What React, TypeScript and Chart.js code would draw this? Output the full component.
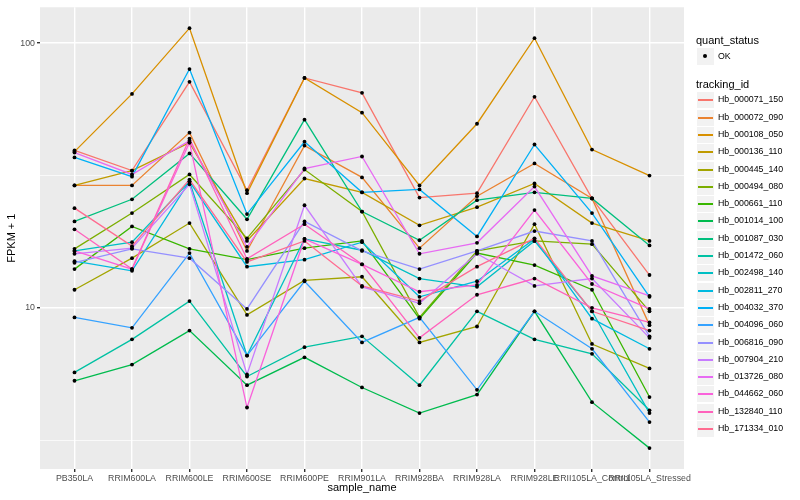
import React, { useEffect, useRef } from 'react';
import { Chart, registerables } from 'chart.js';

Chart.register(...registerables);

const categories = [
  'PB350LA', 'RRIM600LA', 'RRIM600LE', 'RRIM600SE', 'RRIM600PE', 'RRIM901LA',
  'RRIM928BA', 'RRIM928LA', 'RRIM928LE', 'RRII105LA_Control', 'RRII105LA_Stressed',
];

const trackingIds = [
  'Hb_000071_150', 'Hb_000072_090', 'Hb_000108_050', 'Hb_000136_110', 'Hb_000445_140',
  'Hb_000494_080', 'Hb_000661_110', 'Hb_001014_100', 'Hb_001087_030', 'Hb_001472_060',
  'Hb_002498_140', 'Hb_002811_270', 'Hb_004032_370', 'Hb_004096_060', 'Hb_006816_090',
  'Hb_007904_210', 'Hb_013726_080', 'Hb_044662_060', 'Hb_132840_110', 'Hb_171334_010',
];

const seriesColors = [
  '#F8766D', '#EA8331', '#D89000', '#C09B00', '#A3A500',
  '#7CAE00', '#39B600', '#00BB4E', '#00BF7D', '#00C1A3',
  '#00BFC4', '#00BAE0', '#00B0F6', '#35A2FF', '#9590FF',
  '#C77CFF', '#E76BF3', '#FA62DB', '#FF62BC', '#FF6C91',
];

// FPKM + 1 per sample (order of categories)
const hb_000071_150 = [39.3, 33.0, 71.4, 27.8, 73.9, 64.9, 26.1, 27.1, 62.7, 25.9, 13.3];
const hb_000072_090 = [29.0, 29.0, 45.9, 16.4, 41.0, 31.1, 16.8, 26.4, 35.1, 25.9, 8.6];
const hb_000108_050 = [38.9, 64.3, 113.9, 27.1, 73.9, 54.6, 29.0, 49.6, 104.4, 39.6, 31.6];
const hb_000136_110 = [29.0, 33.0, 42.1, 17.9, 30.8, 27.3, 20.5, 24.0, 29.5, 20.9, 17.9];
const hb_000445_140 = [11.7, 15.4, 20.9, 9.4, 12.7, 13.1, 7.4, 8.5, 20.7, 7.3, 5.9];
const hb_000494_080 = [16.7, 22.8, 31.9, 18.3, 33.3, 23.1, 9.2, 16.4, 17.9, 17.4, 9.7];
const hb_000661_110 = [14.0, 20.3, 16.7, 15.2, 16.8, 17.9, 9.1, 16.1, 14.5, 11.7, 4.6];
const hb_001014_100 = [5.3, 6.1, 8.2, 5.1, 6.5, 5.0, 4.0, 4.7, 9.7, 4.4, 2.95];
const hb_001087_030 = [21.2, 25.7, 38.3, 21.6, 51.4, 23.1, 18.0, 25.5, 27.3, 25.9, 17.2];
const hb_001472_060 = [5.7, 7.6, 10.6, 5.5, 7.1, 7.8, 5.1, 9.7, 7.6, 6.7, 4.1];
const hb_002498_140 = [16.4, 17.7, 30.0, 6.6, 18.2, 16.5, 12.9, 12.0, 17.9, 9.7, 4.0];
const hb_002811_270 = [15.0, 13.8, 30.0, 14.3, 15.2, 17.7, 11.0, 12.6, 18.2, 9.1, 7.0];
const hb_004032_370 = [37.0, 31.3, 79.8, 22.6, 42.4, 27.3, 28.0, 18.6, 41.4, 22.8, 11.0];
const hb_004096_060 = [9.2, 8.4, 16.1, 6.6, 12.6, 7.4, 9.2, 4.9, 9.7, 7.0, 3.7];
const hb_006816_090 = [14.8, 16.7, 15.4, 9.9, 21.2, 16.4, 14.0, 16.4, 19.5, 17.9, 7.8];
const hb_007904_210 = [16.0, 16.8, 29.3, 5.6, 24.4, 12.0, 10.4, 16.0, 12.1, 12.9, 7.7];
const hb_013726_080 = [38.6, 31.9, 42.8, 17.0, 33.6, 37.3, 16.0, 17.6, 28.7, 13.2, 11.1];
const hb_044662_060 = [16.4, 14.0, 42.1, 4.2, 18.2, 14.6, 11.5, 12.2, 23.4, 12.3, 9.9];
const hb_132840_110 = [19.8, 14.0, 43.6, 15.3, 20.7, 14.6, 7.7, 11.2, 12.9, 10.0, 8.8];
const hb_171334_010 = [23.8, 17.1, 30.5, 14.9, 17.9, 12.1, 10.6, 14.3, 18.3, 9.7, 8.2];

const seriesValues = [
  hb_000071_150, hb_000072_090, hb_000108_050, hb_000136_110, hb_000445_140,
  hb_000494_080, hb_000661_110, hb_001014_100, hb_001087_030, hb_001472_060,
  hb_002498_140, hb_002811_270, hb_004032_370, hb_004096_060, hb_006816_090,
  hb_007904_210, hb_013726_080, hb_044662_060, hb_132840_110, hb_171334_010,
];

const yTickValues = [3.1623, 10, 31.623, 100];
const yTickLabels = ['', '10', '', '100'];
const yMin = 2.46;
const yMax = 136.6;

const FONT = '"Liberation Sans", Arial, Helvetica, sans-serif';

const panelBg = {
  id: 'panelBg',
  beforeDraw(chart: any) {
    const { ctx, chartArea } = chart;
    if (!chartArea) return;
    ctx.save();
    ctx.fillStyle = '#EBEBEB';
    ctx.fillRect(chartArea.left, chartArea.top, chartArea.right - chartArea.left, chartArea.bottom - chartArea.top);
    ctx.restore();
  },
};

export default function App() {
  const canvasRef = useRef<HTMLCanvasElement | null>(null);

  useEffect(() => {
    if (!canvasRef.current) return;
    Chart.defaults.font.family = FONT;

    const lineSets = seriesValues.map((vals, i) => ({
      type: 'line' as const,
      label: trackingIds[i],
      data: vals.map((y, j) => ({ x: j, y })),
      borderColor: seriesColors[i],
      backgroundColor: seriesColors[i],
      borderWidth: 1.3,
      pointRadius: 0,
      fill: false,
      tension: 0,
      order: 100 - i,
    }));
    const pointSets = seriesValues.map((vals, i) => ({
      type: 'line' as const,
      label: trackingIds[i] + ' OK',
      data: vals.map((y, j) => ({ x: j, y })),
      showLine: false,
      pointRadius: 1.9,
      pointBackgroundColor: '#000000',
      pointBorderWidth: 0,
      borderColor: '#000000',
      order: 0,
    }));

    const chart = new Chart(canvasRef.current, {
      type: 'line',
      data: { datasets: [...lineSets, ...pointSets] as any },
      plugins: [panelBg],
      options: {
        animation: false,
        responsive: false,
        maintainAspectRatio: false,
        layout: { padding: { left: 0, right: 116, top: 5, bottom: 0 } },
        plugins: { legend: { display: false }, tooltip: { enabled: false } },
        scales: {
          x: {
            type: 'linear',
            min: -0.6,
            max: 10.6,
            afterBuildTicks: (s: any) => {
              s.ticks = categories.map((_, i) => ({ value: i }));
            },
            afterFit: (s: any) => {
              s.height = 31;
            },
            ticks: {
              callback: (v: any) => categories[Math.round(Number(v))] ?? '',
              autoSkip: false,
              maxRotation: 0,
              minRotation: 0,
              color: '#4D4D4D',
              font: { size: 8.8, family: FONT },
              padding: 1,
            },
            grid: {
              color: '#FFFFFF',
              lineWidth: 1.4,
              drawTicks: true,
              tickLength: 3,
              tickColor: '#333333',
            },
            border: { display: false },
            title: {
              display: true,
              text: 'sample_name',
              color: '#000000',
              font: { size: 11, family: FONT },
              padding: { top: 0, bottom: 5 },
            },
          },
          y: {
            type: 'logarithmic',
            min: yMin,
            max: yMax,
            afterBuildTicks: (s: any) => {
              s.ticks = yTickValues.map((v) => ({ value: v }));
            },
            afterFit: (s: any) => {
              s.width = 40;
            },
            ticks: {
              callback: (_v: any, i: number) => yTickLabels[i],
              autoSkip: false,
              color: '#4D4D4D',
              font: { size: 8.8, family: FONT },
              padding: 2,
            },
            grid: {
              color: '#FFFFFF',
              lineWidth: (ctx: any) => (yTickLabels[ctx.index] ? 1.4 : 0.7),
              drawTicks: true,
              tickLength: 3,
              tickColor: (ctx: any) => (yTickLabels[ctx.index] ? '#333333' : 'rgba(0,0,0,0)'),
            },
            border: { display: false },
            title: {
              display: true,
              text: 'FPKM + 1',
              color: '#000000',
              font: { size: 11, family: FONT },
              padding: { top: 5.5, bottom: 0 },
            },
          },
        },
      } as any,
    });
    return () => chart.destroy();
  }, []);

  const entryCenter = (i: number) => Math.round(100.3 + i * 17.3);

  return (
    <div style={{ position: 'absolute', left: 0, top: 0, width: 800, height: 500, background: '#FFFFFF', fontFamily: FONT, color: '#000' }}>
      <canvas ref={canvasRef} width={800} height={500} style={{ position: 'absolute', left: 0, top: 0, width: 800, height: 500 }} />
      <div style={{ position: 'absolute', left: 696, top: 34, fontSize: 11, lineHeight: '13px', whiteSpace: 'nowrap' }}>quant_status</div>
      <div style={{ position: 'absolute', left: 697, top: 48, width: 17, height: 17, background: '#F2F2F2' }}>
        <div style={{ position: 'absolute', left: 6, top: 6, width: 4, height: 4, borderRadius: 2, background: '#000' }} />
      </div>
      <div style={{ position: 'absolute', left: 718, top: 51, fontSize: 8.8, lineHeight: '11px', whiteSpace: 'nowrap' }}>OK</div>
      <div style={{ position: 'absolute', left: 696, top: 78, fontSize: 11, lineHeight: '13px', whiteSpace: 'nowrap' }}>tracking_id</div>
      {trackingIds.map((id, i) => (
        <React.Fragment key={id}>
          <div style={{ position: 'absolute', left: 697, top: entryCenter(i) - 8, width: 17, height: 16, background: '#F2F2F2' }}>
            <div style={{ position: 'absolute', left: 1, top: 7, width: 15, height: 2, background: seriesColors[i] }} />
          </div>
          <div style={{ position: 'absolute', left: 718, top: entryCenter(i) - 6, fontSize: 8.8, lineHeight: '11px', whiteSpace: 'nowrap' }}>{id}</div>
        </React.Fragment>
      ))}
    </div>
  );
}
